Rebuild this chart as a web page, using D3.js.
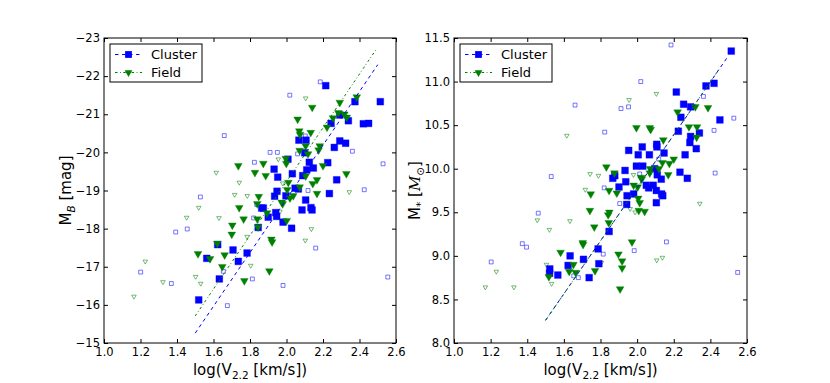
<!DOCTYPE html>
<html>
<head>
<meta charset="utf-8">
<script src="https://cdn.jsdelivr.net/npm/d3@7"></script>
<style>
  body { margin: 0; background: #fff; }
  svg { font-family: "DejaVu Sans", sans-serif; }
</style>
</head>
<body>
<svg id="chart" width="830" height="383"></svg>
<script>
// values: [log V2.2, value]
const xTicks = [1.0, 1.2, 1.4, 1.6, 1.8, 2.0, 2.2, 2.4, 2.6];
const mbTicks = [-23, -22, -21, -20, -19, -18, -17, -16, -15];
const massTicks = [8.0, 8.5, 9.0, 9.5, 10.0, 10.5, 11.0, 11.5];
const seriesNames = ['Cluster', 'Field'];

const mbClusterFilled = [
  [2.215,-21.75],[2.375,-21.33],[2.514,-21.33],[2.292,-20.98],[2.339,-20.83],[2.244,-20.76],[2.421,-20.75],[2.450,-20.76],
  [2.068,-20.32],[2.107,-20.32],[2.292,-20.30],[2.324,-20.24],[2.262,-20.13],[2.100,-19.99],[2.008,-19.82],[2.125,-19.74],
  [2.226,-19.73],[2.147,-19.59],[1.932,-19.56],[2.032,-19.44],[2.111,-19.54],[1.952,-19.35],[2.089,-19.39],[2.275,-19.28],
  [2.235,-18.92],[2.105,-18.75],[2.047,-19.06],[1.948,-18.98],[1.935,-18.85],[1.997,-18.86],[2.065,-19.04],[1.873,-18.54],
  [1.864,-18.54],[1.845,-18.03],[1.900,-18.30],[1.941,-18.42],[1.946,-18.32],[1.981,-18.17],[2.028,-18.01],[2.085,-18.49],
  [2.134,-18.55],[2.140,-18.49],[1.623,-17.58],[1.707,-17.44],[1.784,-17.36],[1.563,-17.22],[1.736,-17.14],[1.632,-16.68],
  [1.519,-16.13]
];
const mbClusterOpen = [
  [2.185,-21.85],[2.018,-21.50],[1.659,-20.44],[2.103,-20.43],[1.910,-20.00],[1.950,-20.00],[2.361,-20.03],[1.824,-19.74],
  [2.529,-19.70],[2.061,-19.96],[1.528,-18.83],[1.456,-17.99],[1.393,-17.91],[1.201,-16.86],[1.369,-16.56],[1.676,-15.98],
  [1.654,-16.88],[1.813,-16.68],[1.981,-16.51],[2.118,-19.00],[2.160,-17.49],[2.426,-19.02],[2.555,-16.73],[1.837,-18.63],
  [1.820,-18.28]
];
const mbFieldFilled = [
  [2.292,-21.31],[2.385,-21.45],[2.141,-21.18],[2.284,-21.04],[2.317,-21.00],[2.330,-20.92],[2.255,-20.90],[2.222,-20.66],
  [2.061,-20.87],[2.070,-20.56],[2.074,-20.47],[2.133,-20.52],[2.105,-20.17],[2.182,-20.17],[2.176,-20.06],[2.072,-20.05],
  [2.118,-19.96],[1.996,-19.84],[1.999,-19.71],[1.736,-19.65],[1.873,-19.71],[2.200,-19.65],[1.827,-19.47],[1.886,-19.39],
  [2.328,-19.44],[2.105,-19.38],[2.167,-19.28],[2.010,-19.21],[2.144,-19.18],[2.167,-18.92],[2.072,-19.09],[2.004,-19.02],
  [2.037,-18.86],[2.019,-18.80],[1.848,-18.84],[1.840,-18.65],[1.974,-18.69],[1.979,-18.65],[1.741,-18.55],[1.893,-18.41],
  [1.840,-18.25],[1.765,-18.25],[2.001,-18.21],[1.703,-18.09],[1.844,-18.04],[1.700,-17.85],[1.917,-17.72],[1.921,-17.65],
  [1.621,-17.61],[1.515,-17.34],[1.581,-17.21],[1.661,-17.31],[1.648,-17.00],[1.906,-16.89],[1.769,-16.63]
];
const mbFieldOpen = [
  [2.105,-21.42],[1.615,-19.47],[1.955,-19.82],[1.741,-19.21],[1.716,-18.89],[1.785,-18.86],[1.519,-18.55],[1.453,-18.29],
  [1.630,-18.28],[1.979,-19.19],[1.226,-17.14],[1.323,-16.60],[1.164,-16.22],[1.502,-16.74],[1.530,-16.56],[1.804,-17.03],
  [1.784,-17.79],[2.136,-17.99],[2.103,-17.69],[2.344,-18.96],[1.964,-18.45]
];
const mbClusterFit = [[1.5,-15.26],[2.5,-22.30]];
const mbFieldFit = [[1.5,-15.71],[2.49,-22.69]];

const massClusterFilled = [
  [2.514,11.35],[2.214,10.88],[2.376,10.95],[2.420,10.98],[2.254,10.74],[2.292,10.71],[2.239,10.59],[2.452,10.56],
  [2.225,10.43],[2.340,10.41],[2.292,10.37],[2.288,10.30],[2.323,10.23],[2.262,10.16],[2.028,10.25],[2.107,10.28],
  [2.108,10.25],[1.954,10.21],[2.006,10.16],[2.067,10.16],[2.147,10.18],[1.996,10.03],[2.031,10.03],[1.934,9.98],
  [2.234,9.96],[2.274,9.89],[2.096,10.00],[2.110,9.93],[2.132,9.88],[1.867,9.89],[1.878,9.92],[1.901,9.79],
  [1.938,9.85],[1.981,9.71],[1.943,9.59],[1.945,9.69],[2.050,9.81],[2.063,9.78],[2.088,9.81],[2.105,9.75],
  [2.134,9.71],[2.140,9.69],[2.105,9.61],[1.847,9.28],[1.787,9.08],[1.707,8.96],[1.791,8.91],[1.738,8.75],
  [1.634,9.00],[1.623,8.89],[1.523,8.85],[1.522,8.80],[1.567,8.78]
];
const massClusterOpen = [
  [2.185,11.42],[2.020,11.00],[1.661,10.73],[1.912,10.69],[1.953,10.71],[2.362,10.83],[2.528,10.58],[1.823,10.42],
  [2.420,10.44],[1.531,9.91],[2.426,9.95],[1.820,9.78],[1.905,9.60],[2.014,9.94],[2.118,10.11],[1.460,9.49],
  [1.373,9.14],[1.396,9.10],[1.203,8.93],[1.654,8.77],[1.679,8.75],[1.815,9.02],[1.984,9.06],[2.160,9.16],[2.549,8.81]
];
const massFieldFilled = [
  [2.221,10.65],[2.318,10.71],[2.387,10.70],[1.996,10.47],[2.069,10.47],[2.074,10.45],[2.283,10.48],[2.327,10.48],
  [2.325,10.36],[2.143,10.33],[2.200,10.11],[2.176,10.06],[2.138,10.07],[1.832,10.02],[2.071,10.00],[2.119,10.00],
  [2.069,9.95],[2.170,9.93],[1.876,9.95],[2.021,9.90],[1.847,9.75],[1.889,9.72],[1.747,9.71],[1.981,9.81],
  [2.003,9.79],[2.025,9.88],[2.006,9.66],[2.014,9.61],[2.009,9.52],[2.041,9.51],[1.742,9.52],[1.848,9.50],
  [1.842,9.47],[1.845,9.38],[1.766,9.33],[1.703,9.15],[1.705,9.13],[1.972,9.16],[1.582,9.04],[1.898,9.02],
  [1.918,8.94],[1.918,8.86],[1.907,8.62],[1.629,8.82],[1.652,8.90],[1.664,8.81],[1.770,8.83],[1.518,8.76]
];
const massFieldOpen = [
  [1.616,10.38],[1.956,10.79],[2.105,10.86],[1.743,9.94],[1.789,9.92],[1.980,9.93],[1.717,9.76],[1.962,9.54],
  [1.989,9.50],[2.342,9.60],[1.455,9.41],[1.633,9.40],[1.521,9.30],[2.107,8.95],[2.138,8.98],[1.231,8.82],
  [1.171,8.64],[1.327,8.64],[1.505,8.90],[1.533,8.68],[1.805,8.92]
];
const massClusterFit = [[1.5,8.26],[2.5,11.30]];
const massFieldFit = [[1.5,8.26],[2.45,11.15]];

const BLUE = '#0000ff', GREEN = '#008000';
const TOP = 38, BOTTOM = 343;
const svg = d3.select('#chart');

const symSquare = d3.symbol().type(d3.symbolSquare);
const symTri = d3.symbol().type(d3.symbolTriangle);

function drawMarkers(g, data, x, y, kind, filled) {
  const color = kind === 'square' ? BLUE : GREEN;
  const gen = kind === 'square' ? symSquare.size(filled ? 46 : 15) : symTri.size(filled ? 26 : 9);
  g.append('g').selectAll('path').data(data).join('path')
    .attr('d', gen())
    .attr('transform', d => `translate(${x(d[0])},${y(d[1])})` + (kind === 'tri' ? ' rotate(180)' : ''))
    .attr('fill', filled ? color : '#fff')
    .attr('stroke', color)
    .attr('stroke-opacity', filled ? 0.45 : 0.6)
    .attr('stroke-width', filled ? 0.8 : 0.9);
}

function drawPanel(o) {
  const x = d3.scaleLinear().domain([1.0, 2.6]).range([o.left, o.right]);
  const y = d3.scaleLinear().domain(o.yDomain).range([BOTTOM, TOP]);
  const g = svg.append('g');

  g.append('rect').attr('x', o.left).attr('y', TOP)
    .attr('width', o.right - o.left).attr('height', BOTTOM - TOP)
    .attr('fill', '#fff');

  drawMarkers(g, o.clusterOpen, x, y, 'square', false);
  drawMarkers(g, o.fieldOpen, x, y, 'tri', false);
  drawMarkers(g, o.clusterFilled, x, y, 'square', true);
  drawMarkers(g, o.fieldFilled, x, y, 'tri', true);

  const line = d3.line().x(d => x(d[0])).y(d => y(d[1]));
  g.append('path').attr('d', line(o.clusterFit)).attr('fill', 'none')
    .attr('stroke', BLUE).attr('stroke-width', 1).attr('stroke-dasharray', '3.5,3.5');
  g.append('path').attr('d', line(o.fieldFit)).attr('fill', 'none')
    .attr('stroke', GREEN).attr('stroke-width', 1).attr('stroke-dasharray', '2.5,2.5,0.8,2.5');

  // ticks inside on all four sides
  const tick = 4;
  const fmtX = d3.format('.1f');
  g.append('g').attr('transform', `translate(0,${BOTTOM})`)
    .call(d3.axisBottom(x).tickValues(xTicks).tickSize(-tick).tickPadding(5).tickFormat(fmtX));
  g.append('g').attr('transform', `translate(0,${TOP})`)
    .call(d3.axisTop(x).tickValues(xTicks).tickSize(-tick).tickFormat(''));
  g.append('g').attr('transform', `translate(${o.left},0)`)
    .call(d3.axisLeft(y).tickValues(o.yTicks).tickSize(-tick).tickPadding(4).tickFormat(o.yFormat));
  g.append('g').attr('transform', `translate(${o.right},0)`)
    .call(d3.axisRight(y).tickValues(o.yTicks).tickSize(-tick).tickFormat(''));
  g.selectAll('.domain').remove();
  g.selectAll('.tick line').attr('stroke', '#000');
  g.selectAll('.tick text').attr('fill', '#000').style('font-size', '11.5px')
    .style('font-family', '"DejaVu Sans", sans-serif');

  g.append('rect').attr('x', o.left).attr('y', TOP)
    .attr('width', o.right - o.left).attr('height', BOTTOM - TOP)
    .attr('fill', 'none').attr('stroke', '#000').attr('stroke-width', 1);

  // axis labels
  const xl = g.append('text').attr('x', (o.left + o.right) / 2).attr('y', 375)
    .attr('text-anchor', 'middle').style('font-size', '15px');
  xl.append('tspan').text('log(V');
  xl.append('tspan').attr('dy', 3.5).style('font-size', '10.5px').text('2.2');
  xl.append('tspan').attr('dy', -3.5).text(' [km/s])');

  const yl = g.append('text')
    .attr('transform', `translate(${o.labelX},${(TOP + BOTTOM) / 2}) rotate(-90)`)
    .attr('text-anchor', 'middle').style('font-size', '15px');
  o.yLabel(yl);

  // legend
  const lx = o.left + 6, ly = 44;
  const lg = g.append('g');
  lg.append('rect').attr('x', lx).attr('y', ly).attr('width', 92).attr('height', 38)
    .attr('fill', '#fff').attr('stroke', '#000').attr('stroke-width', 1);
  const entries = [
    { name: seriesNames[0], color: BLUE, dash: '3.5,3.5', kind: 'square', dy: 10.5 },
    { name: seriesNames[1], color: GREEN, dash: '2.5,2.5,0.8,2.5', kind: 'tri', dy: 28.5 }
  ];
  entries.forEach(e => {
    const cy = ly + e.dy;
    lg.append('line').attr('x1', lx + 5).attr('x2', lx + 32).attr('y1', cy).attr('y2', cy)
      .attr('stroke', e.color).attr('stroke-dasharray', e.dash);
    const gen = e.kind === 'square' ? symSquare.size(46) : symTri.size(26);
    lg.append('path').attr('d', gen())
      .attr('transform', `translate(${lx + 18.5},${cy})` + (e.kind === 'tri' ? ' rotate(180)' : ''))
      .attr('fill', e.color);
    lg.append('text').attr('x', lx + 41).attr('y', cy + 4.5).style('font-size', '13px').text(e.name);
  });
}

drawPanel({
  left: 104, right: 396, yDomain: [-15, -23], yTicks: mbTicks, yFormat: d3.format('d'),
  clusterFilled: mbClusterFilled, clusterOpen: mbClusterOpen,
  fieldFilled: mbFieldFilled, fieldOpen: mbFieldOpen,
  clusterFit: mbClusterFit, fieldFit: mbFieldFit,
  labelX: 71,
  yLabel: t => {
    t.append('tspan').text('M');
    t.append('tspan').attr('dy', 3.5).style('font-size', '10.5px').style('font-style', 'italic').text('B');
    t.append('tspan').attr('dy', -3.5).text(' [mag]');
  }
});

drawPanel({
  left: 454, right: 747, yDomain: [8.0, 11.5], yTicks: massTicks, yFormat: d3.format('.1f'),
  clusterFilled: massClusterFilled, clusterOpen: massClusterOpen,
  fieldFilled: massFieldFilled, fieldOpen: massFieldOpen,
  clusterFit: massClusterFit, fieldFit: massFieldFit,
  labelX: 420,
  yLabel: t => {
    t.append('tspan').text('M');
    t.append('tspan').attr('dy', 3.5).style('font-size', '10.5px').text('*');
    t.append('tspan').attr('dy', -3.5).text(' [');
    t.append('tspan').style('font-style', 'italic').style('font-family', '"DejaVu Serif", serif').text('M');
    t.append('tspan').attr('dy', 3.5).style('font-size', '10.5px').text('\u2299');
    t.append('tspan').attr('dy', -3.5).text(']');
  }
});
</script>
</body>
</html>
